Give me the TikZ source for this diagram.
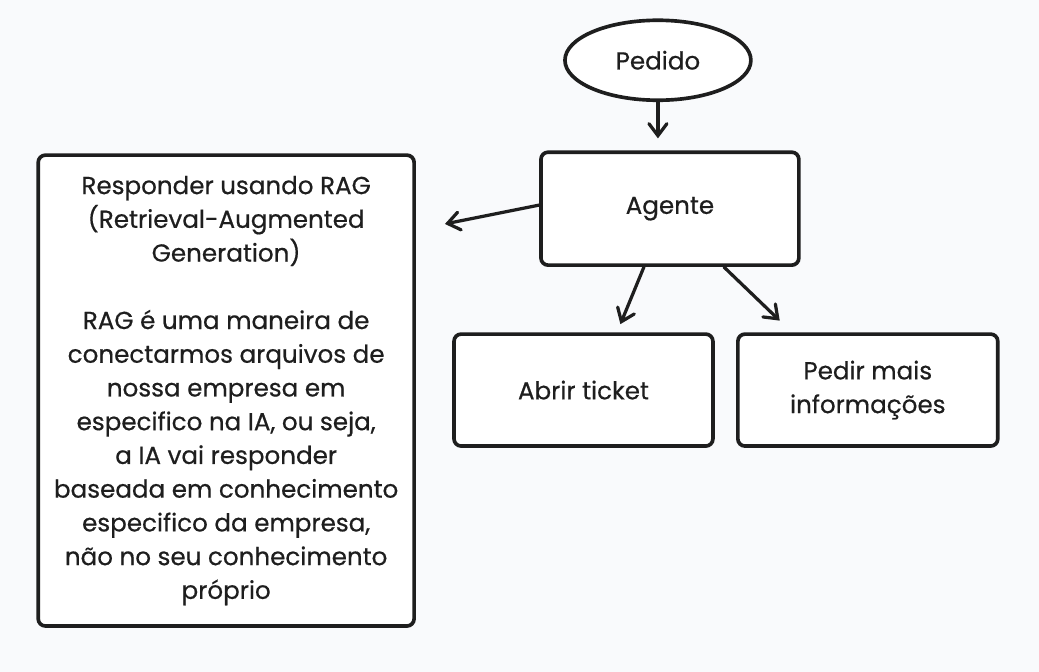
\documentclass[tikz,border=0pt]{standalone}
\usepackage{fontspec}
\setmainfont{Poppins}[FakeBold=0.5]
\usetikzlibrary{arrows.meta}
\usetikzlibrary{shapes.geometric}

\definecolor{paper}{RGB}{249,250,252}
\definecolor{ink}{RGB}{30,30,30}

\begin{document}
\begin{tikzpicture}[x=0.025cm, y=-0.025cm,
  box/.style={draw=ink, fill=white, line width=2.6pt, rounded corners=0.18cm, align=center, text=ink, font=\fontsize{17.5}{24}\selectfont},
  arr/.style={draw=ink, line width=2.3pt, line cap=round, -{Straight Barb[length=0.3cm, width=0.45cm, line cap=round]}}]

%\draw[blue, very thick] (0,0) rectangle (1039,671);
\draw[paper, fill=paper] (0,0) rectangle (1039,671);

\node[box, ellipse, minimum width=4.65cm, minimum height=2cm] (pedido) at (658,60) {Pedido};
\node[box, minimum width=6.45cm, minimum height=2.825cm] (agente) at (670,208.5) {Agente};
\node[box, minimum width=6.475cm, minimum height=2.8cm] (abrir) at (583.5,390) {Abrir ticket};
\node[box, minimum width=6.5cm, minimum height=2.8cm] (pedir) at (868,390) {Pedir mais\\informações};

%rag
\node[box, minimum width=9.4cm, minimum height=11.775cm] (rag) at (226,390.5) {Responder usando RAG\\(Retrieval-Augmented\\Generation)\\[24pt]RAG é uma maneira de\\conectarmos arquivos de\\nossa empresa em\\especifico na IA, ou seja,\\a IA vai responder\\baseada em conhecimento\\especifico da empresa,\\não no seu conhecimento\\próprio};

\draw[arr, shorten >=0.3cm] (pedido.south) -- (pedido.south |- agente.north);
\draw[arr, shorten >=0.74cm] ([yshift=0.09cm]agente.west) -- (rag.east |- 0,229.6);
\draw[arr, shorten >=0.22cm] ([xshift=-0.65cm]agente.south) -- ([xshift=0.84cm]abrir.north);
\draw[arr, shorten >=0.42cm] ([xshift=1.35cm]agente.south) -- ([xshift=-1.9cm]pedir.north);

\end{tikzpicture}
\end{document}
